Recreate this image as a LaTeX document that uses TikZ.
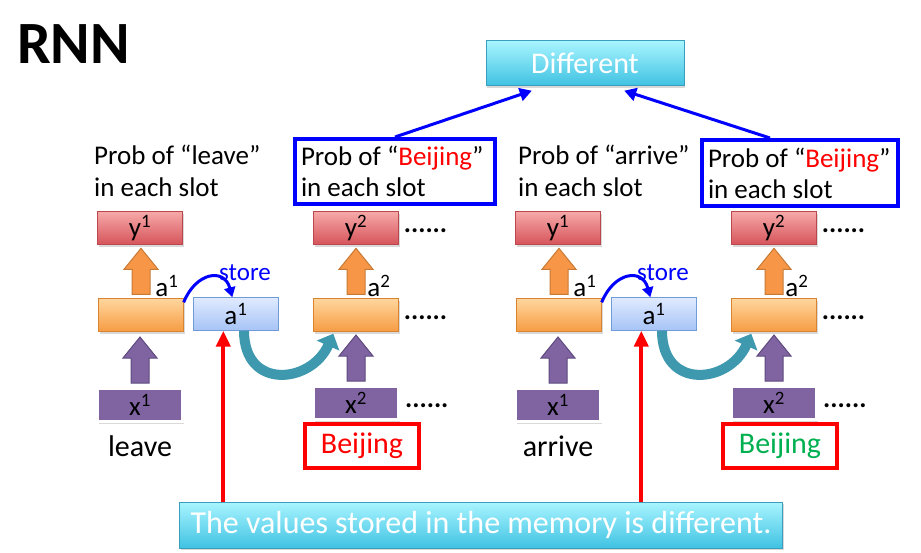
\documentclass[tikz,border=0pt]{standalone}
\usepackage{fontspec}
\setmainfont{Carlito}
\usepackage{xcolor}
\usetikzlibrary{arrows.meta, positioning, calc, shadows}

\definecolor{ytop}{HTML}{F7A9A9}
\definecolor{ybot}{HTML}{D5545A}
\definecolor{yline}{HTML}{B9474B}
\definecolor{atop}{HTML}{FFD69E}
\definecolor{abot}{HTML}{F69C42}
\definecolor{aline}{HTML}{D9822F}
\definecolor{mtop}{HTML}{E0EAFF}
\definecolor{mbot}{HTML}{A6C4F6}
\definecolor{mline}{HTML}{6F9BD8}
\definecolor{xfill}{HTML}{8064A2}
\definecolor{xline}{HTML}{5E4A7E}
\definecolor{ctop}{HTML}{A9F5FF}
\definecolor{cbot}{HTML}{40C2E2}
\definecolor{cline}{HTML}{3A9FBF}
\definecolor{carrycol}{HTML}{3E98AE}
\definecolor{oarrow}{HTML}{F79646}
\definecolor{oarrowline}{HTML}{C77A35}
\definecolor{wgreen}{HTML}{00B050}

\tikzset{
  shade/.style={drop shadow={shadow xshift=1pt, shadow yshift=-2pt, opacity=0.3}},
  box/.style={minimum width=85pt, minimum height=33pt, inner sep=0pt,
              font=\fontsize{27}{30}\selectfont},
  ybox/.style={box, draw=yline, top color=ytop, bottom color=ybot, shade},
  abox/.style={box, draw=aline, top color=atop, bottom color=abot, shade},
  mbox/.style={box, draw=mline, top color=mtop, bottom color=mbot},
  xbox/.style={box, draw=white, line width=3pt, fill=xfill, shade},
  cbox/.style={draw=cline, top color=ctop, bottom color=cbot, shade, text=white,
               inner sep=0pt},
  txt/.style={inner sep=0pt, font=\fontsize{27}{32}\selectfont, align=flush left},
  word/.style={inner sep=0pt, font=\fontsize{30}{32}\selectfont},
  probbox/.style={draw=blue, line width=4pt, inner xsep=6pt, align=flush left,
                  font=\fontsize{27}{31}\selectfont},
  wordbox/.style={draw=red, line width=4pt, minimum width=114pt, minimum height=44pt,
                  inner sep=0pt, font=\fontsize{30}{32}\selectfont},
  storetxt/.style={inner sep=0pt, text=blue, font=\fontsize{25}{28}\selectfont},
  more/.style={inner sep=0pt, font=\fontsize{27}{30}\selectfont\bfseries},
  bluearr/.style={blue, line width=3pt, -{Triangle[width=13pt, length=12pt]}},
  redarr/.style={red, line width=4pt, -{Triangle[width=14pt, length=16pt]}},
  storearr/.style={blue, line width=3pt, -{Triangle[width=11pt, length=10pt]}},
  carry/.style={carrycol, line width=10pt, -{Triangle[width=24pt, length=13pt]}},
  uparr/.pic={
    \draw[pic actions, line join=miter]
      (-9,0) -- (-9,-25) -- (-17,-25) -- (0,-46) -- (17,-25) -- (9,-25) -- (9,0) -- cycle;
  },
  oarr/.style={fill=oarrow, draw=oarrowline, line width=1pt},
  parr/.style={fill=xfill, draw=xline, line width=1pt},
}

\begin{document}
\begin{tikzpicture}[x=1pt, y=-1pt]
  \useasboundingbox (0,0) rectangle (921,552);

  % title and the two boxes on top and bottom
  \node[anchor=base west, inner sep=0pt, font=\fontsize{60}{60}\selectfont\bfseries]
    (title) at (17,63) {RNN};
  \node[cbox, minimum width=198pt, minimum height=45pt, font=\fontsize{30}{34}\selectfont]
    (diff) at (585,63) {Different};
  \node[cbox, minimum width=603pt, minimum height=46pt, font=\fontsize{32}{36}\selectfont]
    (memo) at (481,525) {The values stored in the memory is different.};

  % output descriptions
  \node[txt, anchor=north west] (pl1) at (94,145) {Prob of “leave”\\in each slot};
  \node[txt, anchor=north west] (pr1) at (518,145) {Prob of “arrive”\\in each slot};
  \node[probbox, text width=188pt, minimum height=65pt] (pL) at (395,171.5)
    {Prob of “\textcolor{red}{Beijing}”\\in each slot};
  \node[probbox, text width=184pt, minimum height=66pt] (pR) at (800,173)
    {Prob of “\textcolor{red}{Beijing}”\\in each slot};
  \draw[bluearr] (pL.north) -- ($(diff.south west)+(46,5)$);
  \draw[bluearr] ($(pR.north)+(-30,0)$) -- ($(diff.south east)+(-60,5)$);

  % two unrolled networks
  \foreach \s/\dx/\w/\wc in {L/0/leave/red, R/418/arrive/wgreen}{
    \node[ybox] (y1\s) at (140+\dx,228) {y\textsuperscript{1}};
    \node[abox] (a1\s) at (141+\dx,315) {};
    \node[xbox] (x1\s) at (140+\dx,405) {x\textsuperscript{1}};
    \node[mbox] (m\s) at (236+\dx,314) {a\textsuperscript{1}};
    \node[ybox] (y2\s) at (356+\dx,228) {y\textsuperscript{2}};
    \node[abox] (a2\s) at (356+\dx,315) {};
    \node[xbox] (x2\s) at (356+\dx,403) {x\textsuperscript{2}};
    \node[word, anchor=base] (w1\s) at (140+\dx,456) {\w};
    \node[wordbox, text=\wc] (w2\s) at (362+\dx,446) {Beijing};
    \node[txt, anchor=south east, inner sep=1pt] (la1\s) at ($(a1\s.north east)+(-4,0)$)
      {a\textsuperscript{1}};
    \node[txt, anchor=south east, inner sep=1pt] (la2\s) at ($(a2\s.north east)+(-7,0)$)
      {a\textsuperscript{2}};
    \node[storetxt] (st\s) at (245+\dx,273) {store};
    \foreach \n in {y2,a2,x2}
      \node[more, anchor=west] (d\n\s) at ($(\n\s.east)+(5,3)$) {......};
    % block arrows
    \foreach \n in {1,2}{
      \path ($(a\n\s.north)+(0,-4)$) pic[oarr] {uparr};
      \path ($(x\n\s.north)+(0,-4)$) pic[parr] {uparr};
    }
    % store into memory, then feed it forward
    \coordinate (si\s) at ($(m\s.north west)+(39,0)$);
    \draw[storearr] ($(a1\s.north east)+(0,4)$) .. controls +(12,-30) and +(-8,-30) .. (si\s);
    \coordinate (ci\s) at ($(a2\s.south west)+(20,2)$);
    \draw[carry] ($(m\s.south)+(8,0)$) .. controls +(0,60) and +(-22,50) .. (ci\s);
    % memory differs
    \coordinate (t\s) at ($(m\s.south west)+(30,0)$);
    \draw[redarr] (memo.north -| t\s) -- (t\s);
  }
\end{tikzpicture}
\end{document}
